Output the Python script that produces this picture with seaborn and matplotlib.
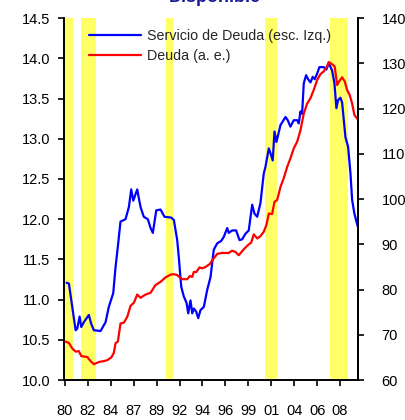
import numpy as np
import pandas as pd
import seaborn as sns
import matplotlib
matplotlib.use("Agg")
import matplotlib.pyplot as plt

# datos (años decimales)
anios_servicio = [1980.17, 1980.41, 1980.75, 1981.09, 1981.26, 1981.50, 1981.67, 1981.93, 1982.44, 1982.68,
                  1982.95, 1983.63, 1984.14, 1984.47, 1984.92, 1985.16, 1985.39, 1985.66, 1986.17, 1986.51,
                  1986.75, 1986.96, 1987.36, 1987.70, 1988.03, 1988.44, 1988.72, 1988.95, 1989.30, 1989.73,
                  1990.14, 1990.82, 1991.09, 1991.43, 1991.59, 1991.84, 1992.10, 1992.38, 1992.55, 1992.78,
                  1992.96, 1993.12, 1993.36, 1993.57, 1993.80, 1994.14, 1994.48, 1994.82, 1995.15, 1995.50,
                  1995.91, 1996.17, 1996.52, 1996.68, 1997.02, 1997.43, 1997.77, 1998.04, 1998.38, 1998.71,
                  1999.06, 1999.29, 1999.57, 1999.90, 2000.24, 2000.41, 2000.75, 2000.92, 2001.15, 2001.33,
                  2001.53, 2001.94, 2002.45, 2002.68, 2002.95, 2003.29, 2003.64, 2003.80, 2003.97, 2004.14,
                  2004.31, 2004.55, 2004.75, 2004.99, 2005.22, 2005.43, 2005.67, 2005.90, 2006.34, 2006.61,
                  2006.85, 2007.19, 2007.43, 2007.63, 2007.80, 2008.04, 2008.21, 2008.55, 2008.82, 2009.06,
                  2009.23, 2009.46, 2009.67, 2009.80]
servicio_deuda = [11.21, 11.20, 10.91, 10.62, 10.64, 10.79, 10.66, 10.72, 10.81, 10.70,
                  10.62, 10.61, 10.72, 10.91, 11.08, 11.41, 11.66, 11.97, 12.00, 12.15,
                  12.37, 12.23, 12.37, 12.15, 12.03, 12.00, 11.89, 11.83, 12.11, 12.12,
                  12.03, 12.02, 11.99, 11.74, 11.53, 11.16, 11.04, 10.96, 10.83, 10.99,
                  10.83, 10.89, 10.85, 10.77, 10.87, 10.91, 11.12, 11.28, 11.62, 11.70,
                  11.73, 11.78, 11.89, 11.83, 11.86, 11.86, 11.74, 11.75, 11.82, 11.86,
                  12.18, 12.07, 12.03, 12.20, 12.57, 12.65, 12.88, 12.82, 12.73, 13.09,
                  12.96, 13.17, 13.27, 13.23, 13.15, 13.23, 13.23, 13.19, 13.34, 13.31,
                  13.69, 13.79, 13.74, 13.70, 13.77, 13.74, 13.81, 13.89, 13.89, 13.86,
                  13.94, 13.85, 13.69, 13.38, 13.48, 13.51, 13.45, 13.02, 12.90, 12.57,
                  12.24, 12.07, 11.97, 11.91]

anios_deuda = [1980.07, 1980.41, 1980.75, 1981.09, 1981.42, 1981.67, 1982.28, 1982.61, 1982.95, 1983.46,
               1983.97, 1984.31, 1984.72, 1984.98, 1985.16, 1985.39, 1985.66, 1986.00, 1986.35, 1986.68,
               1987.02, 1987.36, 1987.70, 1988.21, 1988.72, 1989.22, 1989.73, 1990.24, 1990.75, 1991.09,
               1991.43, 1991.70, 1991.94, 1992.45, 1992.71, 1992.96, 1993.12, 1993.39, 1993.70, 1993.97,
               1994.31, 1994.72, 1995.15, 1995.50, 1996.01, 1996.68, 1997.02, 1997.36, 1997.70, 1998.20,
               1998.61, 1998.96, 1999.22, 1999.57, 1999.90, 2000.24, 2000.51, 2000.75, 2001.09, 2001.33,
               2001.60, 2001.94, 2002.27, 2002.62, 2002.95, 2003.29, 2003.64, 2003.97, 2004.31, 2004.65,
               2004.99, 2005.32, 2005.67, 2006.00, 2006.34, 2006.69, 2006.85, 2007.19, 2007.46, 2007.70,
               2007.87, 2008.21, 2008.48, 2008.72, 2008.98, 2009.23, 2009.46, 2009.73]
deuda = [68.5, 68.2, 67.0, 66.3, 66.4, 65.3, 65.1, 64.2, 63.5, 64.0,
         64.2, 64.4, 65.0, 66.0, 68.2, 68.5, 72.5, 72.7, 74.0, 76.4,
         77.1, 78.9, 78.2, 78.9, 79.3, 81.0, 81.7, 82.7, 83.3, 83.4,
         83.2, 82.7, 82.3, 82.3, 83.0, 82.8, 83.9, 83.9, 84.9, 84.7,
         85.0, 85.6, 86.9, 87.9, 88.1, 88.1, 88.6, 88.3, 87.6, 88.9,
         89.8, 90.4, 92.2, 91.3, 91.8, 92.8, 94.3, 96.8, 96.7, 99.4,
         99.8, 102.7, 104.6, 107.1, 109.0, 111.2, 112.7, 115.2, 118.9, 121.1,
         122.3, 124.1, 126.3, 127.6, 128.2, 129.4, 130.3, 129.8, 129.3, 125.2,
         125.9, 126.9, 126.0, 124.1, 123.0, 121.1, 118.6, 117.8]

# recesiones (franjas amarillas)
recesion_inicio = [1979.95, 1981.60, 1990.34, 2000.41, 2006.95]
recesion_fin = [1980.85, 1983.20, 1991.05, 2001.63, 2008.78]

etiquetas_x = ["80", "82", "84", "87", "89", "92", "94", "96", "99", "01", "04", "06", "08"]

sns.set_style("ticks")
plt.rcParams['font.family'] = ['Liberation Sans', 'DejaVu Sans']

df_s = pd.DataFrame({"anio": anios_servicio, "valor": servicio_deuda})
df_d = pd.DataFrame({"anio": anios_deuda, "valor": deuda})

fig = plt.figure(figsize=(4.05, 4.2), dpi=100)
ax = fig.add_axes([0.159, 0.095, 0.725, 0.862])
ax2 = ax.twinx()

for a, b in zip(recesion_inicio, recesion_fin):
    ax.axvspan(a, b, color="#FFFF66", lw=0, zorder=0)

sns.lineplot(data=df_s, x="anio", y="valor", ax=ax, color="#0000FF", lw=1.6,
             label="Servicio de Deuda (esc. Izq.)", legend=False)
sns.lineplot(data=df_d, x="anio", y="valor", ax=ax2, color="#FF0000", lw=1.6,
             label="Deuda (a. e.)", legend=False)

ax.set_xlim(1979.95, 2009.83)
ax.set_ylim(10.0, 14.5)
ax2.set_ylim(60, 140)
ax.set_yticks(np.arange(10.0, 14.51, 0.5))
ax.set_yticklabels([f"{v:.1f}" for v in np.arange(10.0, 14.51, 0.5)])
ax2.set_yticks(np.arange(60, 141, 10))
ax.set_xticks(np.linspace(1980, 2008, len(etiquetas_x)))
ax.set_xticklabels(etiquetas_x)
ax.set_xlabel("")
ax.set_ylabel("")
ax2.set_ylabel("")

for a in (ax, ax2):
    a.spines["top"].set_visible(False)
    for s in a.spines.values():
        s.set_linewidth(1.4)
        s.set_color("black")
    a.tick_params(direction="out", length=4, width=1.2, labelsize=10.5, colors="black")
ax.tick_params(axis="x", pad=13)
ax.tick_params(axis="y", pad=6)
ax2.tick_params(axis="y", pad=13)
ax2.spines["left"].set_visible(False)
ax2.spines["bottom"].set_visible(False)

h1, l1 = ax.get_legend_handles_labels()
h2, l2 = ax2.get_legend_handles_labels()
ax2.legend(h1 + h2, l1 + l2, loc="upper left", bbox_to_anchor=(0.04, 1.005), frameon=False,
           fontsize=10.3, handlelength=3.6, handletextpad=0.45, labelspacing=0.38)

# titulo cortado arriba, como en el original
fig.text(0.53, 0.985, "Disponible", color="#1A1A99", fontsize=13, fontweight="bold",
         ha="center", va="bottom")

fig.savefig("out.png", dpi=100)
